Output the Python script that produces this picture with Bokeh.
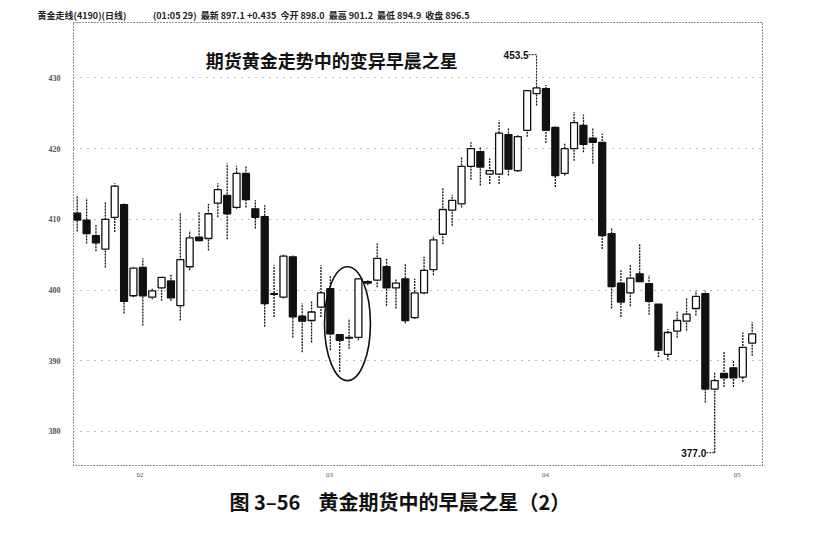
from bokeh.plotting import figure
from bokeh.models import Range1d, FixedTicker, Title
from bokeh.core.properties import value
from bokeh.embed import file_html
from bokeh.resources import INLINE

# ---- data ----
opens = [410.9, 409.9, 407.7, 405.8, 410.3, 412.1, 399.2, 403.2, 399.0, 400.3,
         401.3, 397.8, 403.3, 407.5, 407.3, 412.3, 413.4, 411.7, 416.5, 411.5,
         410.4, 399.5, 399.0, 404.7, 396.3, 395.7, 397.6, 400.2, 393.7, 393.2,
         393.3, 401.2, 401.4, 403.3, 400.3, 401.6, 396.1, 399.6, 402.9, 407.9,
         411.3, 412.2, 417.5, 419.6, 416.4, 416.4, 422.0, 416.9, 422.6, 427.8,
         428.5, 423.0, 416.5, 420.0, 423.3, 421.5, 420.9, 408.0, 401.0, 399.6,
         402.3, 400.9, 398.0, 390.9, 394.2, 395.6, 397.4, 399.5, 386.0, 388.2,
         389.0, 387.7, 392.5]
highs = [413.4, 413.0, 409.3, 412.4, 415.1, 412.4, 403.3, 404.5, 400.2, 401.9,
         402.3, 411.0, 408.4, 411.0, 412.2, 415.1, 417.9, 417.6, 417.6, 412.7,
         412.0, 403.5, 405.0, 404.9, 398.1, 398.5, 403.5, 402.1, 393.8, 396.0,
         401.7, 401.5, 406.6, 404.5, 401.6, 403.8, 401.6, 404.7, 407.7, 414.5,
         413.5, 418.9, 420.9, 420.2, 418.6, 424.0, 423.0, 421.9, 428.3, 429.3,
         429.0, 423.1, 420.7, 425.2, 424.8, 423.0, 422.1, 408.7, 402.8, 403.5,
         406.5, 402.1, 398.1, 394.5, 397.1, 398.8, 399.9, 399.9, 388.4, 391.4,
         390.0, 394.0, 395.5]
lows = [408.3, 406.6, 405.5, 403.2, 408.2, 396.7, 399.0, 395.0, 398.7, 398.5,
        398.5, 395.7, 402.8, 406.9, 405.6, 410.3, 407.2, 411.5, 411.7, 408.7,
        394.8, 396.2, 398.8, 393.3, 391.2, 392.6, 396.2, 391.5, 388.4, 391.7,
        392.9, 400.7, 400.4, 397.8, 397.4, 395.3, 395.9, 399.4, 402.1, 406.5,
        409.1, 411.7, 415.6, 414.8, 415.0, 415.0, 416.2, 416.7, 421.7, 426.1,
        420.8, 414.6, 416.2, 418.3, 419.5, 417.9, 405.8, 397.4, 396.2, 397.7,
        401.1, 396.5, 390.5, 390.1, 393.3, 394.3, 396.4, 384.1, 377.0, 386.3,
        386.3, 387.0, 390.7]
closes = [409.9, 408.0, 406.7, 410.0, 414.7, 398.4, 403.1, 399.2, 399.9, 401.8,
          398.9, 404.3, 407.4, 407.0, 410.8, 414.2, 410.8, 416.5, 412.8, 410.3,
          398.1, 399.4, 404.8, 396.2, 395.6, 396.9, 399.6, 393.8, 392.9, 393.3,
          401.6, 401.0, 404.5, 400.3, 401.0, 395.7, 399.6, 402.8, 407.1, 411.4,
          412.7, 417.5, 420.0, 417.4, 416.9, 422.2, 417.1, 421.7, 428.2, 428.6,
          422.6, 416.2, 420.0, 423.7, 420.6, 420.9, 407.7, 400.5, 398.3, 401.7,
          401.2, 398.4, 391.5, 394.0, 395.7, 396.6, 399.1, 386.0, 387.2, 387.6,
          387.6, 391.9, 393.8]

price_ticks = [380, 390, 400, 410, 420, 430]
month_ticks = [6.7, 26.9, 49.95, 70.4]
month_labels = ["02", "03", "04", "05"]

peak_label = "453.5"
trough_label = "377.0"
star_candles = [27, 28, 29, 30]   # zero-based indices of the circled pattern

NB = "\u00a0"
header_text = ("黄金走线(4190)(日线)" + NB * 13 + "(01:05" + NB + "29)" + NB * 2 +
               "最新 897.1 +0.435" + NB * 2 + "今开 898.0" + NB * 2 +
               "最高 901.2" + NB * 2 + "最低 894.9" + NB * 2 + "收盘 896.5")
chart_title = "期货黄金走势中的变异早晨之星"
caption = "图 3–56" + NB * 4 + "黄金期货中的早晨之星（2）"

# ---- derived ----
n = len(opens)
xs = list(range(n))
up_x = [i for i in xs if closes[i] >= opens[i]]
dn_x = [i for i in xs if closes[i] < opens[i]]

p = figure(width=815, height=530, output_backend="svg", toolbar_location=None,
           x_range=Range1d(-0.395, 73.1), y_range=Range1d(375.19, 437.85),
           min_border_left=73, min_border_right=53, min_border_top=22,
           min_border_bottom=65)
p.background_fill_color = "white"
p.border_fill_color = "white"
p.outline_line_color = "#222222"
p.outline_line_dash = "1 2"
p.outline_line_width = 1

p.xgrid.visible = False
p.ygrid.grid_line_color = "#777777"
p.ygrid.grid_line_dash = "1 6"
p.ygrid.grid_line_width = 1
p.ygrid.ticker = FixedTicker(ticks=price_ticks)

p.yaxis.ticker = FixedTicker(ticks=price_ticks)
p.yaxis.axis_line_color = None
p.yaxis.major_tick_line_color = None
p.yaxis.minor_tick_line_color = None
p.yaxis.major_label_standoff = 7
p.yaxis.major_label_text_font = "Liberation Serif"
p.yaxis.major_label_text_font_size = "8px"
p.yaxis.major_label_text_font_style = "bold"
p.yaxis.major_label_text_color = "#555555"

p.xaxis.ticker = FixedTicker(ticks=month_ticks)
p.xaxis.major_label_overrides = {t: l for t, l in zip(month_ticks, month_labels)}
p.xaxis.axis_line_color = None
p.xaxis.major_tick_line_color = None
p.xaxis.minor_tick_line_color = None
p.xaxis.major_label_standoff = 1
p.xaxis.major_label_text_font = "Liberation Serif"
p.xaxis.major_label_text_font_size = "7px"
p.xaxis.major_label_text_color = "#555555"

# wicks
p.segment(x0=xs, y0=lows, x1=xs, y1=highs, line_color="#111111",
          line_width=1.3, line_dash="2 1")
# bodies
bw = 0.74
p.vbar(x=up_x, width=bw, top=[closes[i] for i in up_x], bottom=[opens[i] for i in up_x],
       fill_color="white", line_color="#111111", line_width=1.3)
p.vbar(x=dn_x, width=bw, top=[opens[i] for i in dn_x], bottom=[closes[i] for i in dn_x],
       fill_color="#111111", line_color="#111111", line_width=1.3)

# peak annotation
imax = max(xs, key=lambda i: highs[i])
py = highs[imax] + 4.0
p.line(x=[imax - 0.85, imax, imax], y=[py, py, highs[imax]], line_color="#111111",
       line_width=1, line_dash="2 1")
p.text(x=[imax - 0.85], y=[py], text=[peak_label], text_align="right",
       text_baseline="middle", text_font=value("Liberation Sans"),
       text_font_size="10px", text_font_style="bold", text_color="#111111")

# trough annotation
imin = min(xs, key=lambda i: lows[i])
p.line(x=[imin - 0.9, imin], y=[lows[imin], lows[imin]], line_color="#111111",
       line_width=1, line_dash="2 1")
p.text(x=[imin - 0.9], y=[lows[imin]], text=[trough_label], text_align="right",
       text_baseline="middle", text_font=value("Liberation Sans"),
       text_font_size="10px", text_font_style="bold", text_color="#111111")

# circled morning star
s_lo = min(lows[i] for i in star_candles)
s_hi = max(highs[i] for i in star_candles)
p.ellipse(x=[sum(star_candles) / len(star_candles) + 0.33], y=[(s_lo + s_hi) / 2],
          width=4.9, height=(s_hi - s_lo) + 2.4, fill_color=None,
          line_color="#111111", line_width=1.6)

# chart title inside the frame
p.text(x=[13.7], y=[432.5], text=[chart_title], text_align="left",
       text_baseline="middle", text_font=value("Noto Sans CJK SC"),
       text_font_size="18px", text_font_style="bold", text_color="#111111")

# header strip above
p.add_layout(Title(text=header_text, align="left", offset=-36, standoff=1,
                   text_font="Noto Sans CJK SC", text_font_size="9px",
                   text_font_style="bold", text_color="#222222"), "above")

# caption below
p.add_layout(Title(text=caption, align="left", offset=156, standoff=10,
                   text_font="Noto Sans CJK SC", text_font_size="20px",
                   text_font_style="bold", text_color="#111111"), "below")

open("out.html", "w").write(file_html(p, INLINE))
